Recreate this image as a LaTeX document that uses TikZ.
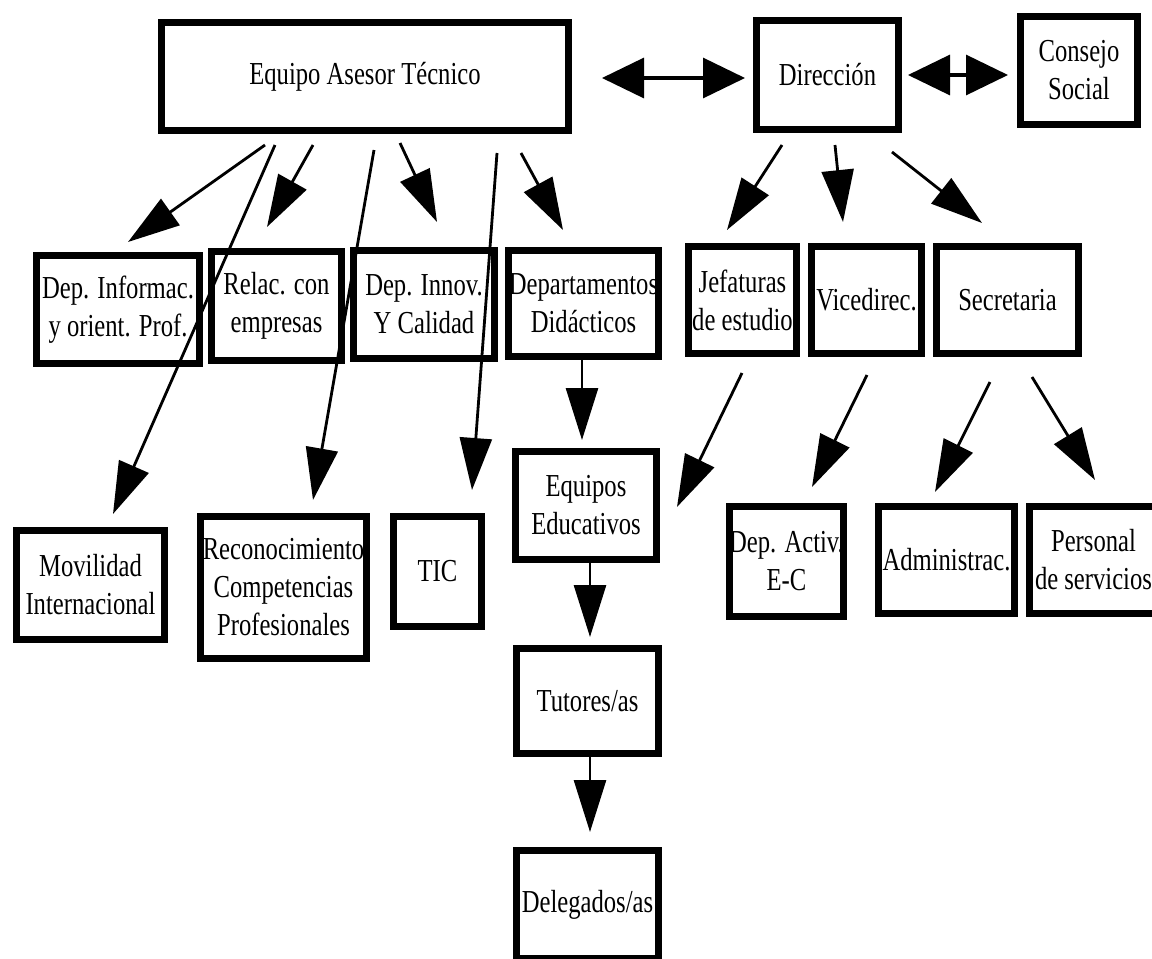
\documentclass[tikz,border=0pt]{standalone}
\usepackage{fontspec}
\setmainfont{Liberation Serif}[FakeStretch=0.77]
\usetikzlibrary{arrows.meta}
\tikzset{
  box/.style={draw=black, line width=3.5pt, fill=white, rectangle, inner sep=0pt,
    align=center, font=\fontsize{16}{19}\selectfont, text=black},
  sz/.style 2 args={minimum width=#1*0.5pt, minimum height=#2*0.5pt},
  arr/.style={line width=1.4pt, -{Triangle[length=26pt,width=16pt]}},
  darr/.style={line width=1.6pt, {Triangle[length=21pt,width=20pt]}-{Triangle[length=21pt,width=20pt]}}
}
\begin{document}
\begin{tikzpicture}[x=0.5pt,y=-0.5pt]
\clip (0,0) rectangle (1152,959);
\fill[white] (0,0) rectangle (1152,959);
% row 1
\node[box, sz={407}{108}] (eat) at (365,76.5) {Equipo Asesor Técnico};
\node[box, sz={142}{109}] (dir) at (827.5,75) {Dirección};
\node[box, sz={117}{108}] (cs) at (1079,70.5) {Consejo\\Social};
% row 2
\node[box, sz={163}{108}] (dinf) at (118,309.5) {Dep. Informac.\\y orient. Prof.};
\node[box, sz={130}{109}] (rel) at (276.5,306) {Relac. con\\empresas};
\node[box, sz={141}{108}] (innov) at (424,304.5) {Dep. Innov.\\Y Calidad};
\node[box, sz={150}{106}] (dd) at (583.5,303.5) {Departamentos\\Didácticos};
\node[box, sz={108}{107}] (jef) at (742.5,300) {Jefaturas\\de estudio};
\node[box, sz={110}{107}] (vic) at (866.5,300) {Vicedirec.};
\node[box, sz={142}{107}] (sec) at (1007.5,300) {Secretaria};
% row 3
\node[box, sz={148}{109}] (mov) at (90.5,585) {Movilidad\\Internacional};
\node[box, sz={166}{142}] (rec) at (283.5,587.5) {Reconocimiento\\Competencias\\Profesionales};
\node[box, sz={88}{110}] (tic) at (437.5,571.5) {TIC};
\node[box, sz={141}{108}] (eqe) at (586,505.5) {Equipos\\Educativos};
\node[box, sz={110}{110}] (dae) at (786.5,561.5) {Dep. Activ.\\E-C};
\node[box, sz={136}{107}] (adm) at (946.5,560) {Administrac.};
\node[box, sz={128}{107}] (pers) at (1093.5,560) {Personal\\de servicios};
% row 4/5
\node[box, sz={142}{105}] (tut) at (587.5,701) {Tutores/as};
\node[box, sz={142}{108}] (del) at (587.5,904.5) {Delegados/as};
% connector ends
\coordinate (eat-a) at (265,145);  \coordinate (dinf-t) at (128,242);
\coordinate (eat-b) at (275,145);  \coordinate (mov-t) at (113,514);
\coordinate (eat-c) at (313,145);  \coordinate (rel-t) at (267,227);
\coordinate (eat-d) at (374,150);  \coordinate (rec-t) at (313,500);
\coordinate (eat-e) at (400,143);  \coordinate (innov-t) at (437,222);
\coordinate (eat-f) at (497,153);  \coordinate (tic-t) at (472,490);
\coordinate (eat-g) at (521,153);  \coordinate (dd-t) at (563,230);
\coordinate (dir-a) at (782,145);  \coordinate (jef-t) at (727,230);
\coordinate (dir-b) at (835,145);  \coordinate (vic-t) at (843,222);
\coordinate (dir-c) at (892,152);  \coordinate (sec-t) at (982,223);
\coordinate (dd-a) at (582,360);   \coordinate (eqe-t) at (582,440);
\coordinate (jef-a) at (742,373);  \coordinate (eqe-u) at (677,507);
\coordinate (vic-a) at (867,375);  \coordinate (dae-t) at (812,487);
\coordinate (sec-a) at (990,382);  \coordinate (adm-t) at (935,492);
\coordinate (sec-b) at (1032,377); \coordinate (pers-t) at (1095,480);
\coordinate (eqe-a) at (590,563);  \coordinate (tut-t) at (590,637);
\coordinate (tut-a) at (590,757);  \coordinate (del-t) at (590,832);
\coordinate (eat-h) at (602,78);   \coordinate (dir-l) at (745,78);
\coordinate (dir-r) at (908,75);   \coordinate (cs-l) at (1008,75);
% connectors
\draw[arr] (eat-a) -- (dinf-t);
\draw[arr] (eat-b) -- (mov-t);
\draw[arr] (eat-c) -- (rel-t);
\draw[arr] (eat-d) -- (rec-t);
\draw[arr] (eat-e) -- (innov-t);
\draw[arr] (eat-f) -- (tic-t);
\draw[arr] (eat-g) -- (dd-t);
\draw[arr] (dir-a) -- (jef-t);
\draw[arr] (dir-b) -- (vic-t);
\draw[arr] (dir-c) -- (sec-t);
\draw[arr] (dd-a) -- (eqe-t);
\draw[arr] (jef-a) -- (eqe-u);
\draw[arr] (vic-a) -- (dae-t);
\draw[arr] (sec-a) -- (adm-t);
\draw[arr] (sec-b) -- (pers-t);
\draw[arr] (eqe-a) -- (tut-t);
\draw[arr] (tut-a) -- (del-t);
\draw[darr] (eat-h) -- (dir-l);
\draw[darr] (dir-r) -- (cs-l);
\end{tikzpicture}
\end{document}
